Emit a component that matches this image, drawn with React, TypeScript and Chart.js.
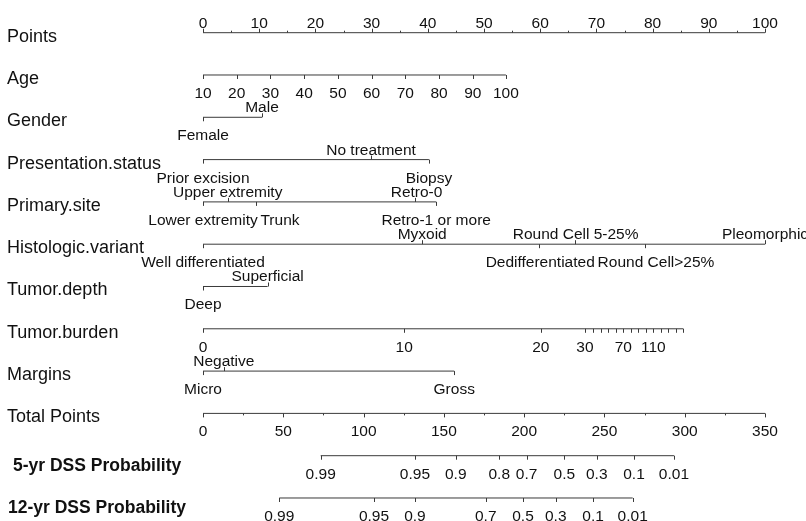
import React, { useEffect, useRef } from 'react';
import { Chart, registerables } from 'chart.js';

Chart.register(...registerables);

// ---------- data ----------
const ROW_NAMES = [
  'Points', 'Age', 'Gender', 'Presentation.status', 'Primary.site', 'Histologic.variant',
  'Tumor.depth', 'Tumor.burden', 'Margins', 'Total Points', '5-yr DSS Probability', '12-yr DSS Probability',
];
const BOLD_ROWS = [10, 11];

const POINTS_MAJOR = [0, 10, 20, 30, 40, 50, 60, 70, 80, 90, 100];
const POINTS_MINOR = [5, 15, 25, 35, 45, 55, 65, 75, 85, 95];

const AGE_LABELS = ['10', '20', '30', '40', '50', '60', '70', '80', '90', '100'];
const AGE_POINTS = [0, 6, 12, 18, 24, 30, 36, 42, 48, 53.9];

const GENDER_LEVELS = ['Female', 'Male'];
const GENDER_POINTS = [0, 10.5];
const GENDER_SIDES = ['below', 'above'];

const PRESENTATION_LEVELS = ['Prior excision', 'No treatment', 'Biopsy'];
const PRESENTATION_POINTS = [0, 29.9, 40.2];
const PRESENTATION_SIDES = ['below', 'above', 'below'];

const SITE_LEVELS = ['Lower extremity', 'Upper extremity', 'Trunk', 'Retro-0', 'Retro-1 or more'];
const SITE_POINTS = [0, 4.4, 9.5, 37.7, 41.5];
const SITE_SIDES = ['below', 'above', 'below', 'above', 'below'];
const SITE_LABEL_AT = [0, 4.4, 13.7, 38.0, 41.5];

const HISTO_LEVELS = ['Well differentiated', 'Myxoid', 'Dedifferentiated', 'Round Cell 5-25%', 'Round Cell>25%', 'Pleomorphic'];
const HISTO_POINTS = [0, 39.0, 59.8, 66.2, 78.7, 100];
const HISTO_SIDES = ['below', 'above', 'below', 'above', 'below', 'above'];
const HISTO_LABEL_AT = [0, 39.0, 60.0, 66.3, 80.6, 100];

const DEPTH_LEVELS = ['Deep', 'Superficial'];
const DEPTH_POINTS = [0, 11.5];
const DEPTH_SIDES = ['below', 'above'];

const BURDEN_TICK_POINTS = [0, 35.8, 60.1, 67.97, 69.45, 70.77, 72.12, 73.49, 74.79, 76.1, 77.46, 78.83, 80.12, 81.44, 82.8, 84.16, 85.46];
const BURDEN_TICK_LABELS = ['0', '10', '20', '30', '', '', '', '', '70', '', '', '', '110', '', '', '', ''];

const MARGIN_LEVELS = ['Micro', 'Negative', 'Gross'];
const MARGIN_POINTS = [0, 3.7, 44.7];
const MARGIN_SIDES = ['below', 'above', 'below'];

const TOTAL_MAX = 350;
const TOTAL_MAJOR = [0, 50, 100, 150, 200, 250, 300, 350];
const TOTAL_MINOR = [25, 75, 125, 175, 225, 275, 325];

const PROB5_LABELS = ['0.99', '0.95', '0.9', '0.8', '0.7', '0.5', '0.3', '0.1', '0.01'];
const PROB5_TOTAL = [73.3, 132.0, 157.4, 184.5, 201.5, 225.0, 245.2, 268.4, 293.3];

const PROB12_LABELS = ['0.99', '0.95', '0.9', '0.7', '0.5', '0.3', '0.1', '0.01'];
const PROB12_TOTAL = [47.5, 106.5, 132.0, 176.1, 199.3, 219.7, 242.9, 267.6];

// ---------- styling ----------
const FONT = '"Liberation Sans", Arial, Helvetica, sans-serif';
const LINE_COLOR = '#3a3a3a';
const TEXT_COLOR = '#111';

type Tick = { p: number; label: string; side: 'above' | 'below'; labelAt: number; len: number };
type AxisSpec = { row: number; from: number; to: number; ticks: Tick[] };

const toPts = (t: number) => (t * 100) / TOTAL_MAX;

function catAxis(row: number, levels: string[], pts: number[], sides: string[], labelAt?: number[]): AxisSpec {
  return {
    row,
    from: Math.min(...pts),
    to: Math.max(...pts),
    ticks: levels.map((l, i) => ({
      p: pts[i], label: l, side: sides[i] as 'above' | 'below', labelAt: labelAt ? labelAt[i] : pts[i], len: 4,
    })),
  };
}

function buildAxes(): AxisSpec[] {
  const axes: AxisSpec[] = [];
  axes.push({
    row: 0, from: 0, to: 100,
    ticks: [
      ...POINTS_MAJOR.map((p) => ({ p, label: String(p), side: 'above' as const, labelAt: p, len: 4 })),
      ...POINTS_MINOR.map((p) => ({ p, label: '', side: 'above' as const, labelAt: p, len: 2 })),
    ],
  });
  axes.push({
    row: 1, from: AGE_POINTS[0], to: AGE_POINTS[AGE_POINTS.length - 1],
    ticks: AGE_POINTS.map((p, i) => ({ p, label: AGE_LABELS[i], side: 'below' as const, labelAt: p, len: 4 })),
  });
  axes.push(catAxis(2, GENDER_LEVELS, GENDER_POINTS, GENDER_SIDES));
  axes.push(catAxis(3, PRESENTATION_LEVELS, PRESENTATION_POINTS, PRESENTATION_SIDES));
  axes.push(catAxis(4, SITE_LEVELS, SITE_POINTS, SITE_SIDES, SITE_LABEL_AT));
  axes.push(catAxis(5, HISTO_LEVELS, HISTO_POINTS, HISTO_SIDES, HISTO_LABEL_AT));
  axes.push(catAxis(6, DEPTH_LEVELS, DEPTH_POINTS, DEPTH_SIDES));
  axes.push({
    row: 7, from: 0, to: BURDEN_TICK_POINTS[BURDEN_TICK_POINTS.length - 1],
    ticks: BURDEN_TICK_POINTS.map((p, i) => ({ p, label: BURDEN_TICK_LABELS[i], side: 'below' as const, labelAt: p, len: 4 })),
  });
  axes.push(catAxis(8, MARGIN_LEVELS, MARGIN_POINTS, MARGIN_SIDES));
  axes.push({
    row: 9, from: 0, to: toPts(TOTAL_MAX),
    ticks: [
      ...TOTAL_MAJOR.map((t) => ({ p: toPts(t), label: String(t), side: 'below' as const, labelAt: toPts(t), len: 4 })),
      ...TOTAL_MINOR.map((t) => ({ p: toPts(t), label: '', side: 'below' as const, labelAt: toPts(t), len: 2 })),
    ],
  });
  axes.push({
    row: 10, from: toPts(PROB5_TOTAL[0]), to: toPts(PROB5_TOTAL[PROB5_TOTAL.length - 1]),
    ticks: PROB5_TOTAL.map((t, i) => ({ p: toPts(t), label: PROB5_LABELS[i], side: 'below' as const, labelAt: toPts(t), len: 4 })),
  });
  axes.push({
    row: 11, from: toPts(PROB12_TOTAL[0]), to: toPts(PROB12_TOTAL[PROB12_TOTAL.length - 1]),
    ticks: PROB12_TOTAL.map((t, i) => ({ p: toPts(t), label: PROB12_LABELS[i], side: 'below' as const, labelAt: toPts(t), len: 4 })),
  });
  return axes;
}

export default function App() {
  const canvasRef = useRef<HTMLCanvasElement | null>(null);

  useEffect(() => {
    const canvas = canvasRef.current;
    if (!canvas) return;
    const axes = buildAxes();

    const nomoPlugin = {
      id: 'nomo',
      afterDatasetsDraw(chart: any) {
        const ctx = chart.ctx as CanvasRenderingContext2D;
        const xs = chart.scales.x;
        const ys = chart.scales.y;
        ctx.save();
        // ticks
        ctx.strokeStyle = LINE_COLOR;
        ctx.lineWidth = 1;
        axes.forEach((a) => {
          const y = ys.getPixelForValue(a.row);
          a.ticks.forEach((t) => {
            const x = Math.round(xs.getPixelForValue(t.p)) + 0.5;
            const dir = t.side === 'above' ? -1 : 1;
            ctx.beginPath();
            ctx.moveTo(x, y);
            ctx.lineTo(x, y + dir * t.len);
            ctx.stroke();
          });
        });
        // tick labels
        ctx.fillStyle = TEXT_COLOR;
        ctx.font = `15.5px ${FONT}`;
        ctx.textAlign = 'center';
        ctx.textBaseline = 'alphabetic';
        axes.forEach((a) => {
          const y = ys.getPixelForValue(a.row);
          a.ticks.forEach((t) => {
            if (!t.label) return;
            const x = xs.getPixelForValue(t.labelAt);
            const ty = t.side === 'above' ? y - 5 : y + 23;
            ctx.fillText(t.label, x, ty);
          });
        });
        // row names
        ctx.textAlign = 'left';
        ROW_NAMES.forEach((name, i) => {
          const y = ys.getPixelForValue(i);
          const bold = BOLD_ROWS.includes(i);
          ctx.font = bold ? `bold 17.5px ${FONT}` : `18px ${FONT}`;
          const x = i === 10 ? 13 : i === 11 ? 8 : 7;
          ctx.fillText(name, x, y + (bold ? 15 : 9));
        });
        ctx.restore();
      },
    };

    const datasets = axes.map((a) => ({
      data: [{ x: a.from, y: a.row }, { x: a.to, y: a.row }],
      borderColor: LINE_COLOR,
      borderWidth: 1,
      pointRadius: 0,
      fill: false,
      tension: 0,
    }));

    const chart = new Chart(canvas, {
      type: 'line',
      data: { datasets },
      plugins: [nomoPlugin],
      options: {
        responsive: false,
        animation: false,
        devicePixelRatio: 1,
        events: [],
        layout: { padding: 0 },
        plugins: { legend: { display: false }, tooltip: { enabled: false } },
        scales: {
          x: { type: 'linear', min: -36.121, max: 107.295, display: false },
          y: { type: 'linear', min: -0.773, max: 11.544, reverse: true, display: false },
        },
      },
    } as any);

    return () => chart.destroy();
  }, []);

  return (
    <div style={{ position: 'fixed', left: 0, top: 0, width: 806, height: 521, background: '#fff' }}>
      <canvas ref={canvasRef} width={806} height={521} style={{ display: 'block' }} />
    </div>
  );
}
